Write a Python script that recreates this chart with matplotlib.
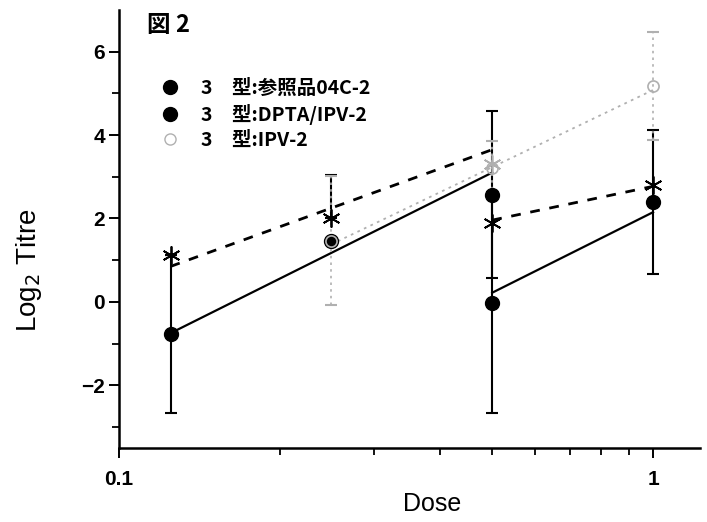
import matplotlib
matplotlib.use("Agg")
import matplotlib.pyplot as plt
from matplotlib.lines import Line2D
from matplotlib.ticker import FixedLocator, NullFormatter, FixedFormatter

plt.rcParams['font.family'] = ['Liberation Sans', 'Noto Sans CJK JP', 'DejaVu Sans']

# ---- data ----
ref_dose = [0.125, 0.25, 0.5]
ref_vals = [-0.77, 1.47, 2.57]
ref_err = [1.90, 0.0, 2.00]
ref_fit_dose = [0.125, 0.5]
ref_fit_vals = [-0.75, 3.10]

dpta_dose = [0.5, 1.0]
dpta_vals = [-0.02, 2.40]
dpta_err = [2.65, 1.72]
dpta_fit_dose = [0.5, 1.0]
dpta_fit_vals = [0.22, 2.15]

ipv_dose = [0.25, 0.5, 1.0]
ipv_vals = [1.47, 3.20, 5.17]
ipv_err = [1.55, 0.65, 1.30]
ipv_fit_dose = [0.25, 1.0]
ipv_fit_vals = [1.38, 5.08]

starA_dose = [0.125, 0.25]
starA_vals = [1.13, 2.02]
starA_err_up = [0.0, 1.03]
starA_faint_dose = [0.5]
starA_faint_vals = [3.30]
starA_fit_dose = [0.125, 0.5]
starA_fit_vals = [0.85, 3.65]

starB_dose = [0.5, 1.0]
starB_vals = [1.90, 2.81]
starB_fit_dose = [0.5, 1.0]
starB_fit_vals = [1.96, 2.77]

legend_labels = ['3\u3000型:参照品04C-2', '3\u3000型:DPTA/IPV-2', '3\u3000型:IPV-2']
y_ticks = [-2, 0, 2, 4, 6]
y_minor = [-3, -1, 1, 3, 5]
x_ticks = [0.1, 1]
x_tick_labels = ['0.1', '1']
x_minor = [0.2, 0.3, 0.4, 0.5, 0.6, 0.7, 0.8, 0.9]

fig = plt.figure(figsize=(7.07, 5.22), dpi=100)
ax = fig.add_axes([0.168, 0.142, 0.822, 0.839])
ax.set_xscale('log')
ax.set_xlim(0.1, 1.224)
ax.set_ylim(-3.5, 7.0)

asterisk = (6, 2, 0)
grey = '#b0b0b0'

# fit lines
ax.plot(ref_fit_dose, ref_fit_vals, color='black', lw=1.6, zorder=2)
ax.plot(dpta_fit_dose, dpta_fit_vals, color='black', lw=1.6, zorder=2)
ax.plot(starA_fit_dose, starA_fit_vals, color='black', lw=2.0, ls=(0, (3.5, 3.5)), zorder=2)
ax.plot(starB_fit_dose, starB_fit_vals, color='black', lw=2.0, ls=(0, (3.5, 3.5)), zorder=2)
ax.plot(ipv_fit_dose, ipv_fit_vals, color=grey, lw=1.3, ls=(0, (1.5, 2.5)), zorder=2)

# error bars
ax.errorbar(ref_dose, ref_vals, yerr=ref_err, fmt='none', ecolor='black', elinewidth=1.5, capsize=4, capthick=1.5, zorder=3)
ax.errorbar(dpta_dose, dpta_vals, yerr=dpta_err, fmt='none', ecolor='black', elinewidth=1.5, capsize=4, capthick=1.5, zorder=3)
ax.errorbar(starA_dose, starA_vals, yerr=[[0.0] * len(starA_err_up), starA_err_up], fmt='none', ecolor='black',
            elinewidth=1.5, capsize=4, capthick=1.5, zorder=3)
eb = ax.errorbar(ipv_dose, ipv_vals, yerr=ipv_err, fmt='none', ecolor=grey, elinewidth=1.2, capsize=4, capthick=1.5, zorder=3)
eb[2][0].set_linestyle((0, (1.5, 2.5)))

# markers
ax.plot(ref_dose, ref_vals, 'o', color='black', ms=10, zorder=4)
ax.plot(dpta_dose, dpta_vals, 'o', color='black', ms=10, zorder=4)
ax.plot(starA_dose, starA_vals, ls='none', marker=asterisk, ms=13, mew=1.3, color='black', zorder=5)
ax.plot(starA_faint_dose, starA_faint_vals, ls='none', marker=asterisk, ms=13, mew=1.2, color=grey, zorder=5)
ax.plot(starB_dose, starB_vals, ls='none', marker=asterisk, ms=13, mew=1.3, color='black', zorder=5)
ax.plot(ipv_dose, ipv_vals, ls='none', marker='o', ms=8, mfc='none', mec=grey, mew=1.2, zorder=6)

# axes styling
for s in ['top', 'right']:
    ax.spines[s].set_visible(False)
ax.spines['left'].set_linewidth(1.8)
ax.spines['bottom'].set_linewidth(1.8)
ax.xaxis.set_major_locator(FixedLocator(x_ticks))
ax.xaxis.set_major_formatter(FixedFormatter(x_tick_labels))
ax.xaxis.set_minor_locator(FixedLocator(x_minor))
ax.xaxis.set_minor_formatter(NullFormatter())
ax.set_yticks(y_ticks)
ax.yaxis.set_minor_locator(FixedLocator(y_minor))
ax.tick_params(axis='both', which='major', direction='out', length=7, width=1.4, labelsize=15, pad=3)
ax.tick_params(axis='both', which='minor', direction='out', length=5, width=1.3)
ax.tick_params(axis='x', which='major', pad=9)
for lab in ax.get_xticklabels() + ax.get_yticklabels():
    lab.set_fontweight('bold')

ax.set_xlabel('Dose', fontsize=18)
ax.xaxis.set_label_coords(0.54, -0.100)
ax.set_ylabel('Log$_2$ Titre', fontsize=20)
ax.yaxis.set_label_coords(-0.128, 0.406)

ax.text(0.048, 0.993, '図 2', transform=ax.transAxes, fontsize=17, fontweight='bold',
        va='top', ha='left', family=['Noto Sans CJK JP', 'DejaVu Sans'])

handles = [Line2D([], [], ls='none', marker='o', color='black', ms=10),
           Line2D([], [], ls='none', marker='o', color='black', ms=10),
           Line2D([], [], ls='none', marker='o', mfc='none', mec=grey, ms=8, mew=1)]
leg = ax.legend(handles, legend_labels, loc='upper left', bbox_to_anchor=(0.058, 0.865),
                frameon=False, handlelength=0.8, handletextpad=1.2,
                labelspacing=0.3, borderpad=0.0,
                prop={'family': ['Noto Sans CJK JP', 'DejaVu Sans'], 'size': 14, 'weight': 'bold'})

fig.savefig('out.png', dpi=100)
